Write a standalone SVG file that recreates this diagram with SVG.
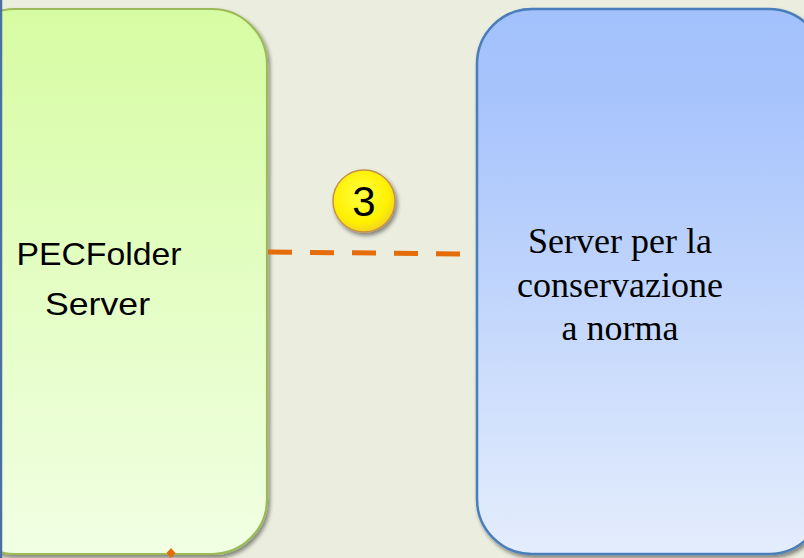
<svg xmlns="http://www.w3.org/2000/svg" width="804" height="558" viewBox="0 0 804 558">
<style>
.sans{font-family:"Liberation Sans","Open Sans",sans-serif;fill:#000}
.serif{font-family:"Liberation Serif","DejaVu Serif",serif;fill:#000}
</style>
<defs>
<linearGradient id="gG" x1="0" y1="0" x2="0" y2="1"><stop offset="0" stop-color="#D6FCA3"/><stop offset="1" stop-color="#F1FFE3"/></linearGradient>
<linearGradient id="gB" x1="0" y1="0" x2="0" y2="1"><stop offset="0" stop-color="#A3C1FC"/><stop offset="0.15" stop-color="#A6C3FC"/><stop offset="1" stop-color="#E4EDFC"/></linearGradient>
<radialGradient id="gY" cx="0.45" cy="0.4" r="0.6"><stop offset="0" stop-color="#FFFF40"/><stop offset="0.75" stop-color="#FFF000"/><stop offset="1" stop-color="#F2D520"/></radialGradient>
<filter id="sh" x="-10%" y="-10%" width="130%" height="130%"><feGaussianBlur in="SourceAlpha" stdDeviation="2"/><feOffset dx="2" dy="3"/><feComponentTransfer><feFuncA type="linear" slope="0.45"/></feComponentTransfer><feMerge><feMergeNode/><feMergeNode in="SourceGraphic"/></feMerge></filter>
</defs>
<rect width="804" height="558" fill="#EBEEDF"/>
<g id="pecfolder-server">
<rect x="-40" y="9" width="307" height="545" rx="55" ry="55" fill="url(#gG)" stroke="#9BBB59" stroke-width="2.2" filter="url(#sh)"/>
<line x1="1" y1="0" x2="1" y2="558" stroke="#4A6FA5" stroke-width="2.5"/>
<text class="sans" font-size="32" text-anchor="middle"><tspan x="99" y="265" textLength="165" lengthAdjust="spacingAndGlyphs">PECFolder</tspan><tspan x="97.5" y="315" textLength="105" lengthAdjust="spacingAndGlyphs">Server</tspan></text>
</g>
<g id="conservazione-server">
<rect x="477" y="9" width="347" height="545" rx="55" ry="55" fill="url(#gB)" stroke="#4A7EBB" stroke-width="2.5" filter="url(#sh)"/>
<text class="serif" font-size="36" text-anchor="middle"><tspan x="620" y="253">Server per la</tspan><tspan x="620" y="297">conservazione</tspan><tspan x="620" y="340">a norma</tspan></text>
</g>
<g id="connectors">
<line x1="268" y1="252" x2="462" y2="254" stroke="#E46C0A" stroke-width="5" stroke-dasharray="24 18"/>
<path d="M171 548 L175.5 553 L171 558 L166.5 553 Z" fill="#E46C0A"/>
</g>
<g id="step-3">
<circle cx="364" cy="201" r="31" fill="url(#gY)" stroke="#C8914A" stroke-width="1.5" filter="url(#sh)"/>
<text class="sans" x="364" y="216" font-size="42" text-anchor="middle">3</text>
</g>
</svg>
